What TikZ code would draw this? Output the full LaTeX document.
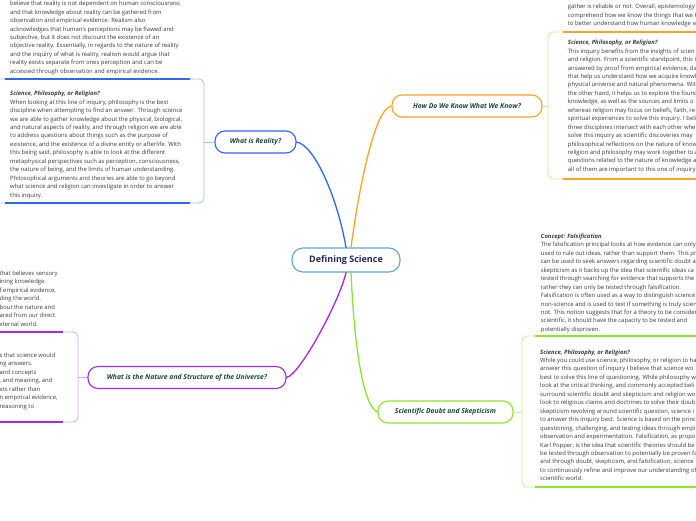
\documentclass[tikz,border=0pt]{standalone}
\usepackage{fontspec}
\setmainfont{Open Sans}
\definecolor{cblue}{HTML}{2F66F2}
\definecolor{lblue}{HTML}{A3BFF7}
\definecolor{corange}{HTML}{FFA424}
\definecolor{lorange}{HTML}{FFD48F}
\definecolor{cpurple}{HTML}{A826EE}
\definecolor{lpurple}{HTML}{DBA6F7}
\definecolor{cgreen}{HTML}{8FE52B}
\definecolor{lgreen}{HTML}{C8F396}
\definecolor{topictext}{HTML}{17473A}
\definecolor{centertext}{HTML}{1F2B57}
\definecolor{centerline}{HTML}{62A3D8}
\definecolor{bodygray}{HTML}{3C3C3C}
\tikzset{
  body/.style={anchor=north west, inner sep=0pt, align=left, text=bodygray,
    font=\fontsize{5.9}{8.45}\selectfont},
  topic/.style={rounded corners=10pt, line width=1.1pt, fill=white, minimum height=22pt,
    inner sep=0pt, text=topictext, font=\fontsize{6.8}{8}\selectfont\bfseries\itshape},
  centerbox/.style={rounded corners=11pt, line width=1.1pt, draw=centerline, fill=white,
    minimum width=108pt, minimum height=24pt, inner sep=0pt, text=centertext,
    font=\fontsize{9}{11}\selectfont\bfseries},
  conn/.style={line width=1.3pt, line cap=round},
  stub/.style={line width=0.8pt},
  frame/.style={line width=0.8pt, rounded corners=5pt},
  underline/.style={line width=1.8pt}
}
\newcommand{\ttl}[1]{{\bfseries\itshape #1}}
\begin{document}
\begin{tikzpicture}[x=1pt,y=-1pt]
\useasboundingbox (0,0) rectangle (696,520);
\fill[white] (0,0) rectangle (696,520);

% ---------- central and topic nodes ----------
\node[centerbox] (ds) at (346,260) {Defining Science};
\node[topic, draw=cblue, minimum width=81pt] (real) at (255.5,142) {What is Reality?};
\node[topic, draw=corange, minimum width=150pt] (know) at (467,106) {How Do We Know What We Know?};
\node[topic, draw=cpurple, minimum width=198pt] (univ) at (187,377.5) {What is the Nature and Structure of the Universe?};
\node[topic, draw=cgreen, minimum width=135pt] (skep) at (445.5,412) {Scientific Doubt and Skepticism};

% ---------- main connectors ----------
\draw[conn, cblue] ([xshift=0pt]ds.north) .. controls (338,200) and (315,145) .. (real.east);
\draw[conn, corange] ([xshift=5pt]ds.north) .. controls (358,195) and (374,108) .. (know.west);
\draw[conn, cpurple] ([xshift=0pt]ds.south) .. controls (340,300) and (300,375) .. (univ.east);
\draw[conn, cgreen] ([xshift=5pt]ds.south) .. controls (354,340) and (362,405) .. (skep.west);

% ---------- box anchor coordinates ----------
\coordinate (bluebox) at (204,142);
\coordinate (orangebox) at (548,106);
\coordinate (purplebox) at (78,377.5);
\coordinate (greenbox) at (522,412);

\draw[stub, lblue] (real.west) -- (bluebox);
\draw[stub, lorange] (know.east) -- (orangebox);
\draw[stub, lpurple] (univ.west) -- (purplebox);
\draw[stub, lgreen] (skep.east) -- (greenbox);

% ---------- frames ----------
\draw[frame, lblue] (-10,79) rectangle (204,203);
\draw[frame, lorange] (548,32) rectangle (712,179);
\draw[frame, lpurple] (-10,332) rectangle (78,422);
\draw[frame, lgreen] (522,336) rectangle (712,487);

% ---------- thick underlines ----------
\draw[underline, cblue] (5,79) -- (190,79);
\draw[underline, cblue] (5,203) -- (190,203);
\draw[underline, corange] (563,32) -- (700,32);
\draw[underline, corange] (563,179) -- (700,179);
\draw[underline, cpurple] (-5,332) -- (63,332);
\draw[underline, cpurple] (-5,422) -- (63,422);
\draw[underline, cgreen] (535,336) -- (700,336);
\draw[underline, cgreen] (535,487) -- (700,487);

% ---------- blue texts ----------
\node[body] (bt1) at (10,1.0) {believe that reality is not dependent on human consciousness\\
and that knowledge about reality can be gathered from\\
observation and empirical evidence. Realism also\\
acknowledges that human's perceptions may be flawed and\\
subjective, but it does not discount the existence of an\\
objective reality. Essentially, in regards to the nature of reality\\
and the inquiry of what is reality, realism would argue that\\
reality exists separate from ones perception and can be\\
accessed through observation and empirical evidence.};

\node[body] (bt2) at (10,91.0) {\ttl{Science, Philosophy, or Religion?}\\
When looking at this line of inquiry, philosophy is the best\\
discipline when attempting to find an answer. Through science\\
we are able to gather knowledge about the physical, biological,\\
and natural aspects of reality, and through religion we are able\\
to address questions about things such as the purpose of\\
existence, and the existence of a divine entity or afterlife. With\\
this being said, philosophy is able to look at the different\\
metaphysical perspectives such as perception, consciousness,\\
the nature of being, and the limits of human understanding.\\
Philosophical arguments and theories are able to go beyond\\
what science and religion can investigate in order to answer\\
this inquiry.};

% ---------- orange texts ----------
\node[body] (ot1) at (567.7,-4.6) {sources are and how we can determine if the in\\
gather is reliable or not. Overall, epistemology\\
comprehend how we know the things that we k\\
to better understand how human knowledge w};

\node[body] (ot2) at (567.7,40.0) {\ttl{Science, Philosophy, or Religion?}\\
This inquiry benefits from the insights of scien\\
and religion. From a scientific standpoint, this i\\
answered by proof from empirical evidence, da\\
that help us understand how we acquire knowl\\
physical universe and natural phenomena. Wit\\
the other hand, it helps us to explore the found\\
knowledge, as well as the sources and limits o\\
whereas religion may focus on beliefs, faith, re\\
spiritual experiences to solve this inquiry. I beli\\
three disciplines intersect with each other whe\\
solve this inquiry as scientific discoveries may\\
philosophical reflections on the nature of know\\
religion and philosophy may work together to a\\
questions related to the nature of knowledge a\\
all of them are important to this one of inquiry.};

% ---------- purple texts ----------
\node[body] (pt1) at (-0.5,270.7) {that believes sensory\\
ining knowledge.\\
f empirical evidence,\\
ding the world.\\
bout the nature and\\
ared from our direct\\
xternal world.};

\node[body] (pt2) at (-0.5,352.7) {s that science would\\
ng answers.\\
and concepts\\
, and meaning, and\\
xts rather than\\
n empirical evidence,\\
reasoning to};

% ---------- green texts ----------
\node[body] (gt1) at (540.7,233.7) {\ttl{Concept: Falsification}\\
The falsification principal looks at how evidence can only\\
used to rule out ideas, rather than support them. This pri\\
can be used to seek answers regarding scientific doubt a\\
skepticism as it backs up the idea that scientific ideas ca\\
tested through searching for evidence that supports the\\
rather they can only be tested through falsification.\\
Falsification is often used as a way to distinguish science\\
non-science and is used to test if something is truly scien\\
not. This notion suggests that for a theory to be consider\\
scientific, it should have the capacity to be tested and\\
potentially disproven.};

\node[body] (gt2) at (540,349.4) {\ttl{Science, Philosophy, or Religion?}\\
While you could use science, philosophy, or religion to ha\\
answer this question of inquiry I believe that science wo\\
best to solve this line of questioning. While philosophy w\\
look at the critical thinking, and commonly accepted beli\\
surround scientific doubt and skepticism and religion wo\\
look to religious claims and doctrines to solve their doub\\
skepticism revolving around scientific question, science i\\
to answer this inquiry best. Science is based on the princ\\
questioning, challenging, and testing ideas through empi\\
observation and experimentation. Falsification, as propo\\
Karl Popper, is the idea that scientific theories should be\\
be tested through observation to potentially be proven fa\\
and through doubt, skepticism, and falsification, science\\
to continuously refine and improve our understanding of\\
scientific world.};
\end{tikzpicture}
\end{document}
